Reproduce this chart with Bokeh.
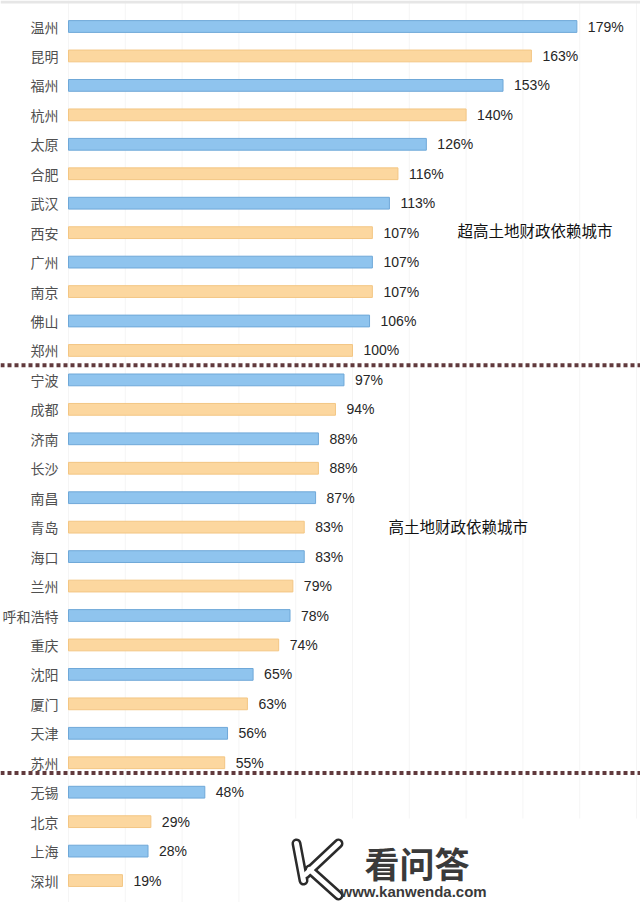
from bokeh.plotting import figure
from bokeh.models import Range1d, Span
from bokeh.embed import file_html
from bokeh.resources import INLINE
from bokeh.core.properties import value

# ---------------- data ----------------
cities = ["温州", "昆明", "福州", "杭州", "太原", "合肥", "武汉", "西安", "广州", "南京",
          "佛山", "郑州", "宁波", "成都", "济南", "长沙", "南昌", "青岛", "海口", "兰州",
          "呼和浩特", "重庆", "沈阳", "厦门", "天津", "苏州", "无锡", "北京", "上海", "深圳"]
values = [179, 163, 153, 140, 126, 116, 113, 107, 107, 107,
          106, 100, 97, 94, 88, 88, 87, 83, 83, 79,
          78, 74, 65, 63, 56, 55, 48, 29, 28, 19]
value_labels = [f"{v}%" for v in values]
group_sizes = [12, 14, 4]
group_titles = ["超高土地财政依赖城市", "高土地财政依赖城市"]
grid_ticks = [0, 20, 40, 60, 80, 100, 120, 140, 160, 180, 200]
watermark_title = "看问答"
watermark_url = "www.kanwenda.com"

# ---------------- layout ----------------
W, H = 640, 902
X0, XS = 68.0, 2.84      # pixel of 0 %, pixels per %
Y0, YS = 26.0, 29.45     # pixel of first row, pixels per row


def px_x(px):
    return (px - X0) / XS


def px_y(py):
    return (py - Y0) / YS


p = figure(width=W, height=H,
           x_range=Range1d(px_x(0), px_x(W)),
           y_range=Range1d(px_y(H), px_y(0)),
           x_axis_location=None, y_axis_location=None,
           output_backend="svg", toolbar_location=None,
           min_border=0, outline_line_color=None,
           background_fill_color="white", border_fill_color="white")
p.grid.visible = False

idx = list(range(len(cities)))

# faint vertical grid lines
p.segment(x0=grid_ticks, y0=[px_y(0)] * len(grid_ticks),
          x1=grid_ticks, y1=[px_y(H)] * len(grid_ticks),
          line_color="#f5f5f5", line_width=1)

# top border line
p.add_layout(Span(location=px_y(1.5), dimension="width", line_color="#e6e6e6", line_width=3))

# bars
fill = ["#8fc4ee" if i % 2 == 0 else "#fcd79f" for i in idx]
edge = ["#6fa8d8" if i % 2 == 0 else "#f3c684" for i in idx]
p.hbar(y=idx, left=0, right=values, height=0.40,
       fill_color=fill, line_color=edge, line_width=1)

# city labels
p.text(x=[0] * len(cities), y=idx, text=cities, x_offset=-10,
       text_align="right", text_baseline="middle",
       text_font=value("Noto Sans CJK SC"), text_font_size="14px",
       text_color="#505050")

# value labels
p.text(x=values, y=idx, text=value_labels, x_offset=11,
       text_align="left", text_baseline="middle",
       text_font=value("Liberation Sans"), text_font_size="14px",
       text_color="#262626")

# group separators (dotted)
b1 = group_sizes[0] - 0.5
b2 = group_sizes[0] + group_sizes[1] - 0.65
for b in (b1, b2):
    p.add_layout(Span(location=b, dimension="width", line_color="#613a3d",
                      line_width=4, line_dash="4 3"))

# group titles
p.text(x=[px_x(457)], y=[px_y(229)], text=[group_titles[0]],
       text_align="left", text_baseline="middle",
       text_font=value("Noto Sans CJK SC"), text_font_size="15.5px",
       text_color="#111111")
p.text(x=[px_x(388)], y=[px_y(525)], text=[group_titles[1]],
       text_align="left", text_baseline="middle",
       text_font=value("Noto Sans CJK SC"), text_font_size="15.5px",
       text_color="#111111")

# watermark area (white background)
p.quad(left=[px_x(283)], right=[px_x(W)], top=[px_y(818)], bottom=[px_y(H)],
       fill_color="white", line_color=None)

# watermark K logo
strokes = [((296, 843), (303, 880)), ((338, 843), (305, 874)), ((309, 869), (338, 895))]
for (ax, ay), (bx, by) in strokes:
    p.line([px_x(ax), px_x(bx)], [px_y(ay), px_y(by)], line_color="#2b2b2b",
           line_width=10, line_cap="round")
for (ax, ay), (bx, by) in strokes:
    p.line([px_x(ax), px_x(bx)], [px_y(ay), px_y(by)], line_color="white",
           line_width=5, line_cap="round")

p.text(x=[px_x(364)], y=[px_y(862)], text=[watermark_title],
       text_align="left", text_baseline="middle",
       text_font=value("Noto Sans CJK SC"), text_font_size="35px",
       text_font_style="bold", text_color="#3a3a3a")
p.text(x=[px_x(340)], y=[px_y(891)], text=[watermark_url],
       text_align="left", text_baseline="middle",
       text_font=value("Liberation Sans"), text_font_size="15px",
       text_font_style="bold", text_color="#3a3a3a")

open("out.html", "w").write(file_html(p, INLINE))
